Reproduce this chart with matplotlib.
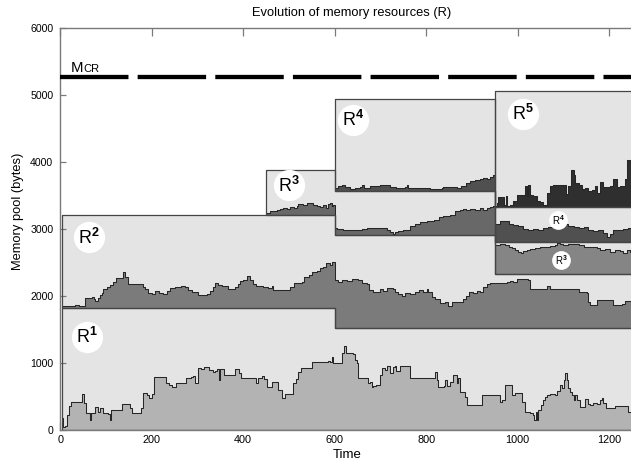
import numpy as np
import matplotlib
matplotlib.use('Agg')
import matplotlib.pyplot as plt

plt.rcParams['font.family'] = ['Liberation Sans', 'DejaVu Sans']
plt.rcParams['mathtext.fontset'] = 'custom'
plt.rcParams['mathtext.rm'] = 'Liberation Sans'
plt.rcParams['mathtext.it'] = 'Liberation Sans'
plt.rcParams['mathtext.bf'] = 'Liberation Sans:bold'
plt.rcParams['lines.scale_dashes'] = False

# ---------------- data ----------------
TITLE = 'Evolution of memory resources (R)'
XLABEL = 'Time'
YLABEL = 'Memory pool (bytes)'
x_ticks = [0, 200, 400, 600, 800, 1000, 1200]
y_ticks = [0, 1000, 2000, 3000, 4000, 5000, 6000]
mcr_level = 5270

# phases of the memory partition (start times, last = end)
phase_edges = [4, 450, 600, 950, 1300]
# box base / top per phase (None = resource not present)
r1_box_base = [0, 0, 0, 0]
r1_box_top = [1810, 1810, 1515, 1515]
r2_box_base = [1810, 1810, 1515, 1515]
r2_box_top = [3200, 3200, 2906, 2323]
r3_box_base = [None, 3200, 2906, 2323]
r3_box_top = [None, 3876, 3567, 2801]
r4_box_base = [None, None, 3567, 2801]
r4_box_top = [None, None, 4936, 3318]
r5_box_base = [None, None, None, 3318]
r5_box_top = [None, None, None, 5049]

# usage of each resource (time, bytes above its box base)
r1_usage = [(4, 180), (6, 45), (10, 60), (14, 220), (19, 350), (23, 410), (47, 530), (51, 400),
            (56, 250), (66, 145), (68, 250), (77, 340), (83, 270), (87, 320), (94, 250), (105, 230),
            (109, 145), (112, 300), (134, 380), (153, 320), (158, 250), (176, 325), (182, 545),
            (190, 520), (194, 470), (200, 540), (204, 780), (231, 690), (238, 670), (244, 630),
            (253, 700), (276, 775), (285, 790), (290, 800), (295, 700), (302, 915), (308, 900),
            (315, 930), (325, 890), (333, 860), (338, 870), (342, 900), (347, 740), (350, 900),
            (358, 815), (382, 900), (390, 840), (395, 765), (428, 700), (433, 765), (441, 800),
            (446, 760), (451, 640), (462, 705), (475, 590), (484, 470), (491, 530), (508, 700),
            (516, 760), (520, 865), (526, 915), (551, 1015), (586, 1030), (590, 1005), (593, 1080),
            (597, 990), (615, 1140), (620, 1250), (625, 1140), (635, 1150), (640, 1130), (644, 1040),
            (648, 1000), (652, 775), (673, 690), (677, 715), (681, 630), (684, 655), (691, 665),
            (699, 815), (703, 915), (710, 890), (714, 950), (721, 840), (727, 940), (732, 950),
            (735, 870), (743, 950), (765, 765), (819, 865), (823, 740), (826, 640), (839, 650),
            (841, 740), (845, 650), (852, 715), (859, 815), (867, 690), (870, 765), (874, 570),
            (885, 495), (890, 370), (921, 520), (961, 420), (965, 445), (972, 670), (987, 520),
            (994, 545), (1009, 420), (1016, 270), (1027, 245), (1033, 220), (1036, 145), (1039, 270),
            (1043, 145), (1045, 295), (1050, 370), (1056, 445), (1060, 495), (1063, 520), (1071, 530),
            (1081, 515), (1085, 580), (1092, 670), (1096, 620), (1101, 740), (1104, 850), (1107, 740),
            (1111, 620), (1114, 570), (1118, 520), (1122, 445), (1125, 520), (1129, 445), (1136, 345),
            (1147, 455), (1154, 385), (1158, 370), (1165, 395), (1173, 385), (1180, 445), (1184, 470),
            (1187, 395), (1194, 320), (1213, 350), (1242, 270), (1300, 270)]

r2_usage = [(4, 40), (32, 55), (40, 40), (54, 150), (69, 175), (73, 140), (76, 115), (82, 150),
            (87, 200), (91, 225), (94, 285), (102, 315), (109, 350), (116, 400), (123, 450), (131, 460),
            (138, 550), (142, 475), (149, 365), (167, 360), (180, 315), (185, 290), (192, 235),
            (200, 215), (207, 265), (215, 230), (225, 215), (233, 265), (240, 300), (251, 315),
            (265, 335), (273, 315), (280, 275), (287, 250), (302, 200), (320, 215), (327, 265),
            (335, 315), (338, 375), (346, 350), (353, 330), (367, 290), (382, 320), (388, 360),
            (393, 410), (400, 430), (408, 485), (415, 430), (422, 365), (429, 335), (444, 320),
            (455, 300), (462, 335), (466, 275), (502, 320), (510, 375), (528, 400), (532, 465),
            (543, 500), (550, 550), (561, 565), (568, 600), (575, 625), (582, 675), (590, 650),
            (595, 700),
            (600, 719), (608, 694), (615, 719), (626, 710), (637, 730), (652, 719), (659, 679),
            (670, 660), (674, 570), (684, 545), (699, 580), (706, 560), (714, 595), (728, 580),
            (732, 545), (739, 510), (746, 480), (754, 521), (765, 510), (776, 545), (785, 570),
            (794, 545), (801, 580), (805, 545), (812, 470), (819, 440), (830, 381), (841, 395),
            (848, 331), (856, 395), (881, 431), (888, 480), (894, 545), (903, 521), (910, 560),
            (918, 545), (925, 619), (932, 660), (939, 670), (958, 679), (976, 694), (983, 710),
            (990, 694), (998, 730), (1023, 719), (1027, 580), (1056, 580), (1063, 630), (1071, 580),
            (1135, 545), (1151, 530), (1154, 395), (1158, 346), (1173, 421), (1209, 346),
            (1227, 361), (1234, 410), (1300, 410)]

r3_usage = [(450, 30), (455, 40), (459, 65), (473, 80), (480, 90), (488, 115), (495, 100),
            (502, 130), (510, 115), (517, 140), (520, 165), (531, 150), (539, 190), (546, 180),
            (553, 160), (561, 140), (568, 130), (575, 150), (581, 115), (586, 165), (590, 190),
            (593, 140), (597, 150),
            (600, 105), (604, 90), (619, 80), (648, 80), (659, 90), (670, 105), (714, 80), (721, 40),
            (728, 20), (732, 40), (739, 55), (750, 80), (765, 130), (775, 170), (786, 190), (801, 205),
            (816, 230), (827, 270), (837, 290), (852, 305), (863, 355), (874, 370), (881, 390),
            (888, 370), (896, 390), (907, 380), (918, 405), (925, 370), (932, 405), (939, 420),
            (947, 440),
            (950, 430), (961, 450), (972, 435), (980, 410), (987, 385), (994, 360), (1001, 335),
            (1007, 310), (1012, 345), (1020, 360), (1027, 370), (1038, 385), (1049, 400), (1060, 410),
            (1071, 425), (1082, 435), (1085, 470), (1093, 450), (1100, 435), (1111, 445), (1122, 450),
            (1133, 435), (1144, 410), (1158, 400), (1173, 385), (1180, 360), (1191, 370), (1202, 335),
            (1213, 360), (1224, 350), (1231, 310), (1238, 360), (1246, 335), (1300, 335)]

r4_usage = [(600, 40), (608, 75), (615, 90), (622, 55), (633, 25), (644, 40), (655, 55), (659, 90),
            (663, 40), (677, 75), (699, 90), (721, 55), (735, 40), (754, 55), (757, 90), (761, 40),
            (786, 40), (808, 25), (834, 40), (837, 55), (867, 40), (877, 65), (888, 115), (896, 140),
            (907, 155), (918, 175), (925, 190), (932, 175), (939, 205), (947, 240),
            (950, 275), (961, 310), (972, 310), (980, 275), (990, 260), (1001, 235), (1012, 195),
            (1023, 185), (1034, 195), (1045, 175), (1056, 210), (1067, 225), (1078, 245), (1089, 260),
            (1100, 275), (1111, 245), (1122, 225), (1133, 210), (1144, 225), (1154, 185), (1165, 160),
            (1176, 175), (1187, 135), (1195, 75), (1202, 125), (1209, 185), (1220, 175), (1231, 195),
            (1242, 210), (1300, 210)]

r5_usage = [(950, 15), (954, 65), (958, 155), (965, 155), (969, 40), (974, 165), (977, 15),
            (983, 40), (989, 90), (998, 190), (1012, 190), (1015, 325), (1020, 165), (1023, 340),
            (1027, 190), (1034, 165), (1042, 90), (1049, 75), (1056, 40), (1063, 215), (1071, 315),
            (1078, 340), (1100, 340), (1106, 205), (1111, 315), (1116, 560), (1122, 490), (1125, 365),
            (1133, 340), (1140, 275), (1147, 290), (1154, 240), (1162, 265), (1169, 325), (1174, 215),
            (1180, 375), (1187, 305), (1202, 315), (1209, 425), (1216, 305), (1224, 325), (1235, 425),
            (1238, 710), (1246, 660), (1300, 660)]

fill_colors = ['#b3b3b3', '#7b7b7b', '#686868', '#505050', '#2f2f2f']
# label positions (time, bytes) and superscripts
big_labels = [(59, 1379, '1'), (63, 2869, '2'), (500, 3645, '3'), (640, 4622, '4'), (1012, 4712, '5')]
small_labels = [(1089, 3130, '4'), (1095, 2533, '3')]

# ---------------- drawing ----------------
fig = plt.figure(figsize=(6.31, 4.62), dpi=100)
ax = fig.add_axes([60.2 / 631, 32.3 / 462, 584.7 / 631, 402 / 462])
ax.set_xlim(0, 1278)
ax.set_ylim(0, 6000)

BOX_FACE = '#e4e4e4'
BOX_EDGE = '#454545'

boxes = [(r1_box_base, r1_box_top), (r2_box_base, r2_box_top), (r3_box_base, r3_box_top),
         (r4_box_base, r4_box_top), (r5_box_base, r5_box_top)]
usages = [r1_usage, r2_usage, r3_usage, r4_usage, r5_usage]


def box_shape(base, top):
    xs, bs, ts = [], [], []
    for i in range(len(base)):
        if base[i] is None:
            continue
        xs.append(phase_edges[i]); bs.append(base[i]); ts.append(top[i])
    xs.append(phase_edges[-1]); bs.append(bs[-1]); ts.append(ts[-1])
    return np.array(xs, float), np.array(bs, float), np.array(ts, float)


def base_at(base, t):
    idx = np.searchsorted(phase_edges, t, side='right') - 1
    idx = np.clip(idx, 0, len(base) - 1)
    vals = np.array([np.nan if b is None else b for b in base], float)
    return vals[idx]


# box faces
for base, top in boxes:
    xs, bs, ts = box_shape(base, top)
    ax.fill_between(xs, bs, ts, step='post', facecolor=BOX_FACE, edgecolor='none', zorder=1)

# usage fills
for k, (usage, (base, top)) in enumerate(zip(usages, boxes)):
    t = np.array([p[0] for p in usage], float)
    v = np.array([p[1] for p in usage], float)
    b = base_at(base, t)
    col = fill_colors[k]
    if k == 2:
        # R3 after the last repartition is drawn lighter
        m1 = t < 950
        m2 = t >= 950
        ax.fill_between(np.append(t[m1], 950), np.append(b[m1], b[m1][-1]),
                        np.append(b[m1] + v[m1], (b[m1] + v[m1])[-1]), step='post',
                        facecolor=col, edgecolor='none', zorder=2)
        ax.fill_between(t[m2], b[m2], b[m2] + v[m2], step='post',
                        facecolor='#858585', edgecolor='none', zorder=2)
    else:
        ax.fill_between(t, b, b + v, step='post', facecolor=col, edgecolor='none', zorder=2)
    ax.step(t, b + v, where='post', color='#262626', lw=0.75, zorder=3)

# box outlines
for base, top in boxes:
    xs, bs, ts = box_shape(base, top)
    ax.fill_between(xs, bs, ts, step='post', facecolor='none', edgecolor=BOX_EDGE,
                    lw=0.9, zorder=3.5)

# MCR line
ax.plot([0, 1300], [mcr_level, mcr_level], color='black', lw=3.1,
        dashes=(49.3, 6.6), dash_capstyle='butt', zorder=4)
ax.text(23, 5334, 'M', fontsize=10.8, va='baseline', ha='left', zorder=6)
ax.text(51, 5334, 'CR', fontsize=8, va='baseline', ha='left', zorder=6)

# resource labels
for x, y, s in big_labels:
    ax.plot([x], [y], marker='o', markersize=22.5, markerfacecolor='white',
            markeredgecolor='none', zorder=5)
    ax.text(x, y, r'$\mathrm{R}^{\mathbf{' + s + '}}$', fontsize=13, ha='center',
            va='center', zorder=6)
for x, y, s in small_labels:
    ax.plot([x], [y], marker='o', markersize=13.5, markerfacecolor='white',
            markeredgecolor='none', zorder=5)
    ax.text(x, y, r'$\mathrm{R}^{\mathbf{' + s + '}}$', fontsize=7, ha='center',
            va='center', zorder=6)

# axes styling
for side in ['left', 'top', 'bottom', 'right']:
    ax.spines[side].set_color('#7a7a7a')
    ax.spines[side].set_linewidth(1.0)
ax.set_xticks(x_ticks)
ax.set_yticks(y_ticks)
ax.set_xticklabels([str(v) for v in x_ticks])
ax.set_yticklabels([str(v) for v in y_ticks])
ax.tick_params(axis='x', direction='in', length=5.8, width=0.9, color='#7a7a7a',
               labelsize=7.8, pad=4, top=True, bottom=True)
ax.tick_params(axis='y', direction='in', length=4.5, width=0.9, color='#7a7a7a',
               labelsize=7.6, pad=5, left=True, right=False)

fig.text(352 / 631, 1 - 16 / 462, TITLE, ha='center', va='baseline', fontsize=9.3)
fig.text(347.5 / 631, 1 - 458 / 462, XLABEL, ha='center', va='baseline', fontsize=9.5)
fig.text(18 / 631, 1 - 211 / 462, YLABEL, ha='center', va='center', rotation=90, fontsize=9.3)

fig.savefig('out.png', dpi=100)
